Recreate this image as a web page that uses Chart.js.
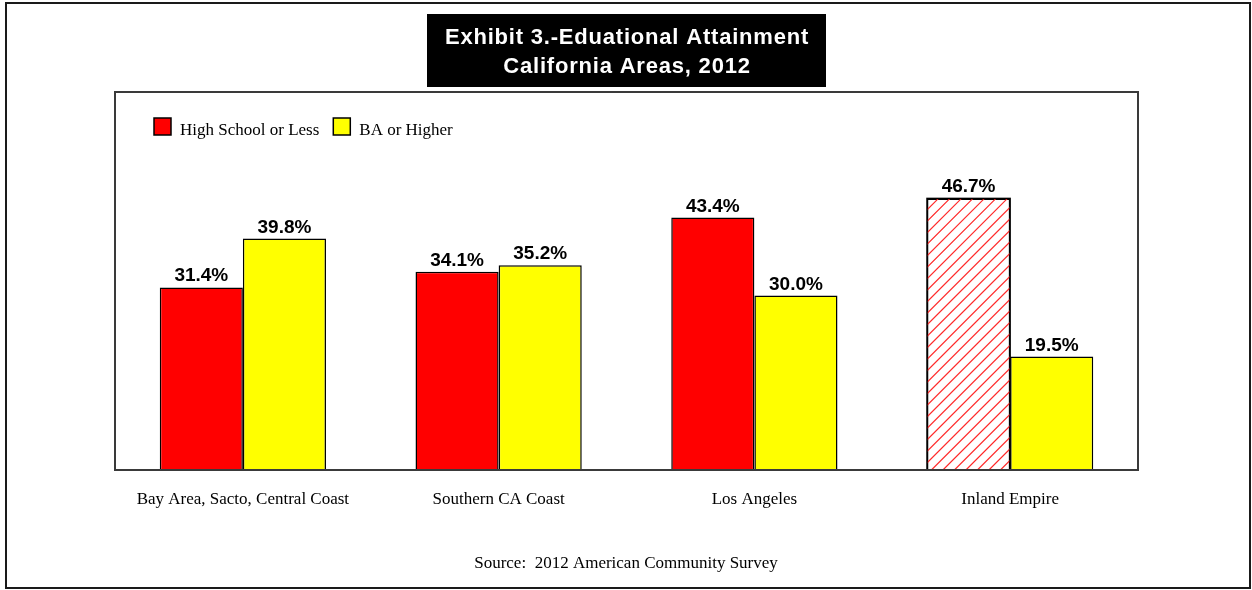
<!DOCTYPE html>
<html>
<head>
<meta charset="utf-8">
<title>Exhibit 3 - Educational Attainment, California Areas, 2012</title>
<script src="https://cdn.jsdelivr.net/npm/chart.js@4/dist/chart.umd.min.js"></script>
<style>
  html, body { margin: 0; padding: 0; background: #ffffff; }
  #wrap { width: 1252px; height: 590px; }
</style>
</head>
<body>
<div id="wrap"><canvas id="chart" width="1252" height="590"></canvas></div>
<script>
// Areas along the x axis
const areas = ['Bay Area, Sacto, Central Coast', 'Southern CA Coast', 'Los Angeles', 'Inland Empire'];
// Share of adults by attainment level (%)
const highSchoolOrLess = [31.4, 34.1, 43.4, 46.7];
const baOrHigher = [39.8, 35.2, 30.0, 19.5];
const seriesNames = ['High School or Less', 'BA or Higher'];
// Bars drawn with a diagonal hatch instead of a solid fill: [dataset, index]
const hatchedBars = [[0, 3]];
const titleLines = ['Exhibit 3.-Eduational Attainment', 'California Areas, 2012'];
const sourceNote = 'Source:  2012 American Community Survey';

const RED = '#ff0000';
const YELLOW = '#ffff00';

const SERIF = '"Liberation Serif", "Times New Roman", serif';
const SANS = '"Liberation Sans", Arial, sans-serif';

function isHatched(d, i) {
  return hatchedBars.some(h => h[0] === d && h[1] === i);
}

// Frame, title box, plot border, hatching, legend, value labels and source line
const decorations = {
  id: 'decorations',
  beforeDraw(chart) {
    const ctx = chart.ctx;
    ctx.save();
    ctx.fillStyle = '#ffffff';
    ctx.fillRect(0, 0, chart.width, chart.height);
    // outer frame
    ctx.strokeStyle = '#1a1a1a';
    ctx.lineWidth = 2;
    ctx.strokeRect(6, 3, 1244, 585);
    // title box
    ctx.fillStyle = '#000000';
    ctx.fillRect(427, 14, 399, 73);
    ctx.fillStyle = '#ffffff';
    ctx.font = 'bold 22px ' + SANS;
    if ('letterSpacing' in ctx) ctx.letterSpacing = '0.8px';
    ctx.textAlign = 'center';
    ctx.textBaseline = 'alphabetic';
    ctx.fillText(titleLines[0], 627, 44);
    ctx.fillText(titleLines[1], 627, 73);
    if ('letterSpacing' in ctx) ctx.letterSpacing = '0px';
    // source note
    ctx.fillStyle = '#000000';
    ctx.font = '17px ' + SERIF;
    ctx.fillText(sourceNote, 626, 568);
    ctx.restore();
  },
  afterDatasetsDraw(chart) {
    const ctx = chart.ctx;
    const a = chart.chartArea;
    ctx.save();
    // diagonal hatching
    chart.data.datasets.forEach((ds, d) => {
      chart.getDatasetMeta(d).data.forEach((bar, i) => {
        if (!isHatched(d, i)) return;
        const p = bar.getProps(['x', 'y', 'base', 'width'], true);
        const left = p.x - p.width / 2, right = p.x + p.width / 2;
        const top = Math.min(p.y, p.base), bottom = Math.max(p.y, p.base);
        const h = bottom - top;
        ctx.save();
        ctx.beginPath();
        ctx.rect(left, top, right - left, h);
        ctx.clip();
        ctx.strokeStyle = '#ff2a2a';
        ctx.lineWidth = 1.2;
        ctx.beginPath();
        for (let k = left - h; k < right + 12; k += 11.5) {
          ctx.moveTo(k, bottom);
          ctx.lineTo(k + h, top);
        }
        ctx.stroke();
        ctx.restore();
        ctx.strokeStyle = '#000000';
        ctx.lineWidth = 1.5;
        ctx.strokeRect(left, top, right - left, h);
      });
    });
    // plot border
    ctx.strokeStyle = '#3a3a3a';
    ctx.lineWidth = 2;
    ctx.strokeRect(a.left, a.top, a.right - a.left, a.bottom - a.top);
    // value labels
    ctx.fillStyle = '#000000';
    ctx.font = 'bold 19px ' + SANS;
    ctx.textAlign = 'center';
    ctx.textBaseline = 'alphabetic';
    chart.data.datasets.forEach((ds, i) => {
      chart.getDatasetMeta(i).data.forEach((bar, j) => {
        ctx.fillText(ds.data[j].toFixed(1) + '%', bar.x, bar.y - 6);
      });
    });
    // legend inside the plot
    const swatches = [RED, YELLOW];
    let x = 154;
    const y = 118;
    ctx.font = '17px ' + SERIF;
    ctx.textAlign = 'left';
    chart.data.datasets.forEach((ds, i) => {
      ctx.fillStyle = swatches[i];
      ctx.fillRect(x, y, 17, 17);
      ctx.strokeStyle = '#000000';
      ctx.lineWidth = 1.5;
      ctx.strokeRect(x, y, 17, 17);
      ctx.fillStyle = '#000000';
      ctx.fillText(ds.label, x + 26, y + 17);
      x += 26 + ctx.measureText(ds.label).width + 14;
    });
    ctx.restore();
  }
};

new Chart(document.getElementById('chart'), {
  type: 'bar',
  data: {
    labels: areas,
    datasets: [
      {
        label: seriesNames[0],
        data: highSchoolOrLess,
        backgroundColor: highSchoolOrLess.map((v, i) => isHatched(0, i) ? '#ffffff' : RED),
        borderColor: '#000000',
        borderWidth: 1.5,
        categoryPercentage: 0.65,
        barPercentage: 1.0
      },
      {
        label: seriesNames[1],
        data: baOrHigher,
        backgroundColor: baOrHigher.map((v, i) => isHatched(1, i) ? '#ffffff' : YELLOW),
        borderColor: '#000000',
        borderWidth: 1.5,
        categoryPercentage: 0.65,
        barPercentage: 1.0
      }
    ]
  },
  options: {
    responsive: false,
    animation: false,
    events: [],
    layout: { padding: { left: 115, right: 114, top: 92, bottom: 80 } },
    plugins: {
      legend: { display: false },
      title: { display: false },
      tooltip: { enabled: false }
    },
    scales: {
      x: {
        grid: { display: false, drawTicks: false },
        border: { display: false },
        ticks: {
          color: '#000000',
          font: { family: SERIF, size: 17 },
          padding: 19,
          maxRotation: 0,
          autoSkip: false
        },
        afterFit(scale) { scale.height = 40; }
      },
      y: {
        display: false,
        min: 0,
        max: 65
      }
    }
  },
  plugins: [decorations]
});
</script>
</body>
</html>
